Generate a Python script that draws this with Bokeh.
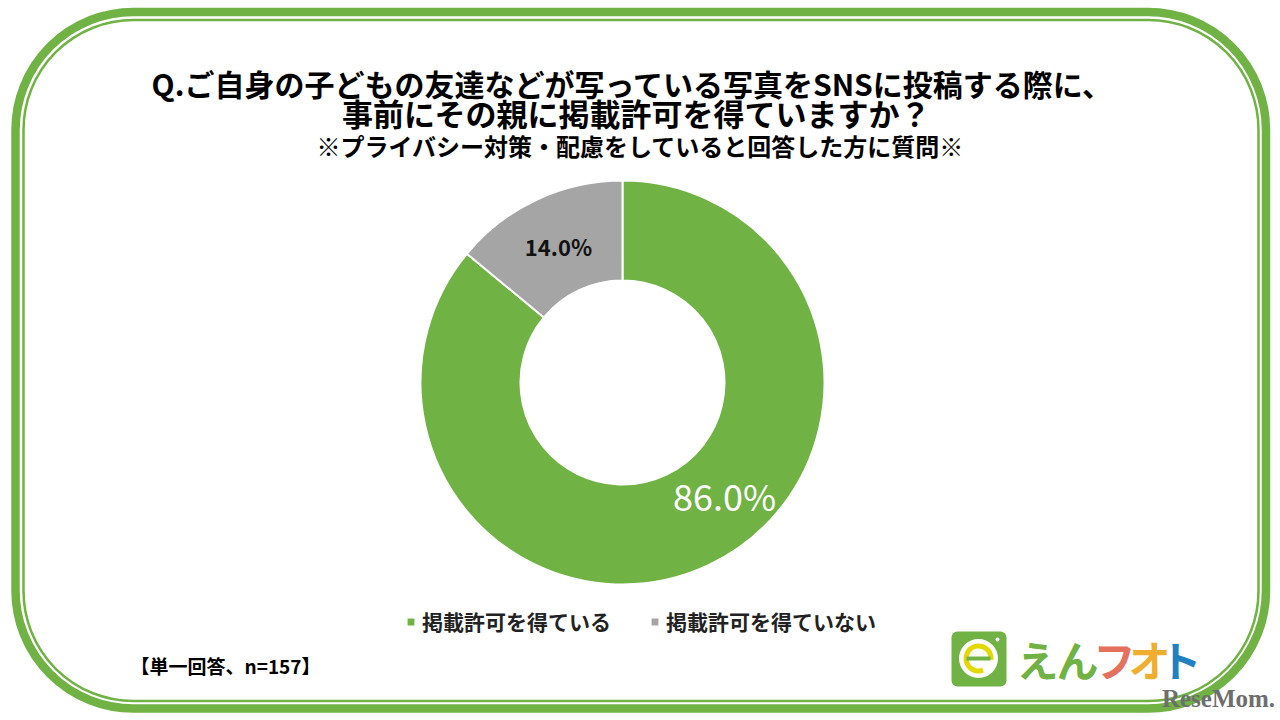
from bokeh.core.properties import value
from bokeh.embed import file_html
from bokeh.models import ColumnDataSource, Legend, LegendItem
from bokeh.plotting import figure
from bokeh.resources import INLINE
import math

categories = ["掲載許可を得ている", "掲載許可を得ていない"]
values = [86.0, 14.0]
colors = ["#70B244", "#A5A5A5"]
value_labels = ["86.0%", "14.0%"]

title_lines = [
    "Q.ご自身の子どもの友達などが写っている写真をSNSに投稿する際に、",
    "事前にその親に掲載許可を得ていますか？",
]
subtitle = "※プライバシー対策・配慮をしていると回答した方に質問※"
note = "【単一回答、n=157】"

FONT = value("Noto Sans CJK JP")
GREEN = "#70B244"


def yy(y):
    # screenshot y to plot y
    return 720 - y


p = figure(width=1280, height=720, x_range=(0, 1280), y_range=(0, 720),
           output_backend="svg", toolbar_location=None, min_border=0,
           outline_line_color=None, background_fill_color="white")
p.axis.visible = False
p.grid.visible = False

# double frame
p.quad(left=15, right=1265.5, bottom=yy(708), top=yy(11.5), fill_color=None,
       line_color=GREEN, line_width=8.5, border_radius=118)
p.quad(left=23, right=1258, bottom=yy(700.5), top=yy(19.5), fill_color=None,
       line_color=GREEN, line_width=2.5, border_radius=110)

# donut, clockwise from the top
start, end = [], []
total = 0
for v in values:
    start.append(math.pi / 2 - total / sum(values) * 2 * math.pi)
    total += v
    end.append(math.pi / 2 - total / sum(values) * 2 * math.pi)

source = ColumnDataSource(dict(category=categories, value=values, color=colors,
                               start=start, end=end))
donut = p.annular_wedge(x=622, y=yy(382), inner_radius=102, outer_radius=202,
                        start_angle="start", end_angle="end", direction="clock",
                        fill_color="color", line_color="white", line_width=2,
                        source=source)

p.text([724], [yy(494)], text=[value_labels[0]], text_color="white", text_font=FONT,
       text_font_size="36px", text_align="center", text_baseline="middle")
p.text([558], [yy(245)], text=[value_labels[1]], text_color="#111111", text_font=FONT,
       text_font_size="22px", text_font_style="bold", text_align="center", text_baseline="middle")

# titles
p.text([632], [yy(82)], text=[title_lines[0]], text_color="black", text_font=FONT,
       text_font_size="30px", text_font_style="bold", text_align="center", text_baseline="middle")
p.text([636], [yy(112)], text=[title_lines[1]], text_color="black", text_font=FONT,
       text_font_size="31px", text_font_style="bold", text_align="center", text_baseline="middle")
p.text([640], [yy(145)], text=[subtitle], text_color="black", text_font=FONT,
       text_font_size="24px", text_font_style="bold", text_align="center", text_baseline="middle")
p.text([130], [yy(665)], text=[note], text_color="black", text_font=FONT,
       text_font_size="19px", text_font_style="bold", text_align="left", text_baseline="middle")

legend = Legend(items=[LegendItem(label=c, renderers=[donut], index=i) for i, c in enumerate(categories)],
                orientation="horizontal", location=(405, 84), background_fill_alpha=0,
                border_line_color=None, glyph_width=11, glyph_height=11, spacing=38,
                label_standoff=6, label_text_font="Noto Sans CJK JP", label_text_font_size="21px",
                label_text_font_style="bold", label_text_color="#222222",
                padding=0, margin=0)
p.add_layout(legend)

# えんフォト logo
p.quad(left=951, right=1006, bottom=yy(686), top=yy(631), fill_color=GREEN,
       line_color=None, border_radius=6)
p.scatter([978], [yy(658)], size=39, marker="circle", fill_color="white", line_color=None)
p.scatter([997], [yy(639)], size=4, marker="circle", fill_color="white", line_color=None)
p.annular_wedge(x=978, y=yy(658), inner_radius=10, outer_radius=15, start_angle=-0.1,
                end_angle=-1.2, direction="anticlock", fill_color="#E3D800", line_color=None)
p.line([966, 990], [yy(658), yy(658)], line_color=GREEN, line_width=4)

logo_chars = ["え", "ん", "フ", "オ", "ト"]
logo_colors = [GREEN, GREEN, "#E5705D", "#EFAE30", "#2080C0"]
logo_x = [1037, 1077, 1114, 1149, 1180]
for ch, c, x in zip(logo_chars, logo_colors, logo_x):
    p.text([x], [yy(658)], text=[ch], text_color=c, text_font=FONT, text_font_size="42px",
           text_font_style="bold", text_align="center", text_baseline="middle")

# ReseMom mark
p.text([1218], [yy(698)], text=["ReseMom."], text_color="#6E6E6E", text_font=value("Liberation Sans Narrow"),
       text_font_size="25px", text_font_style="bold", text_align="center", text_baseline="middle")

open("out.html", "w").write(file_html(p, INLINE))
